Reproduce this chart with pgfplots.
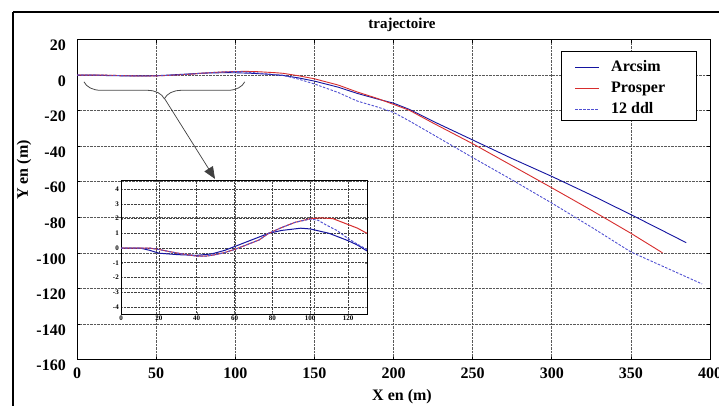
\documentclass[border=0pt]{standalone}
\usepackage{pgfplots}
\pgfplotsset{compat=1.18}
\usepackage{fontspec}
\setmainfont{Liberation Serif}
\usetikzlibrary{arrows.meta,decorations.pathreplacing}
\definecolor{arcsim}{RGB}{20,20,160}
\definecolor{prosper}{RGB}{215,45,45}
\definecolor{ddl}{RGB}{80,80,210}
\newcommand{\bigf}{\fontsize{16}{16}\selectfont\bfseries}
\begin{document}
\begin{tikzpicture}
\useasboundingbox (0pt,0pt) rectangle (719pt,405pt);
\fill[white] (0pt,0pt) rectangle (719pt,405pt);
\begin{axis}[
  at={(77pt,45.5pt)}, anchor=south west,
  scale only axis, width=633pt, height=320pt,
  xmin=0, xmax=400, ymin=-160, ymax=20,
  xtick={0,50,...,400}, ytick={-160,-140,...,20},
  grid=major,
  major grid style={densely dotted, black!65, line width=0.6pt},
  tick align=inside, major tick length=3pt,
  tick style={black, line width=0.6pt},
  axis line style={black, line width=0.8pt},
  /pgf/number format/assume math mode=true,
  tick label style={font=\bigf},
  xticklabel style={inner sep=0pt, anchor=north, yshift=-8pt},
  yticklabel style={inner sep=0pt, anchor=east, xshift=-11pt, yshift=-6pt},
]
\addplot[color=arcsim, line width=0.9pt] coordinates {
(0,0)(10,0)(15,-0.15)(20,-0.35)(30,-0.45)(40,-0.5)(48,-0.4)(55,-0.15)(60,0.1)(70,0.6)(78,1.0)(85,1.2)(95,1.35)(100,1.3)(110,1.0)(120,0.5)(130,-0.2)(140,-1.6)(150,-3.4)(165,-6.8)(177,-10.3)(190,-13.5)(200,-15.8)(210,-19.3)(225,-26)(250,-36.5)(275,-47)(300,-57)(325,-67.5)(350,-78.5)(370,-87.5)(385,-94.3)};
\addplot[color=prosper, line width=0.9pt] coordinates {
(0,0)(15,0)(20,-0.1)(30,-0.35)(40,-0.55)(45,-0.55)(50,-0.45)(55,-0.3)(60,-0.1)(66,0.2)(73,0.55)(78,1.0)(85,1.4)(92,1.75)(100,2.0)(106,2.05)(112,2.0)(120,1.6)(125,1.35)(130,1.0)(140,-0.4)(150,-2.1)(165,-5.6)(177,-9.5)(190,-13.2)(200,-16.5)(210,-19.8)(225,-27)(250,-38.6)(275,-51)(300,-63.4)(325,-76)(350,-89)(370,-100)};
\addplot[color=ddl, line width=0.9pt, dash pattern=on 2.5pt off 1.5pt] coordinates {
(0,0)(15,0)(20,-0.1)(30,-0.35)(40,-0.55)(45,-0.55)(50,-0.45)(55,-0.3)(60,-0.1)(66,0.2)(73,0.55)(78,1.0)(85,1.4)(92,1.75)(100,1.97)(104,1.9)(108,1.6)(114,1.2)(120,0.65)(125,0.25)(130,-0.1)(140,-2.3)(150,-5)(165,-9.8)(177,-14.6)(190,-18)(200,-21)(210,-25.8)(225,-33.5)(250,-46.4)(275,-59)(300,-72)(325,-85.5)(350,-99.5)(375,-109.5)(395,-117.5)};
\draw[black!70, line width=0.8pt, decorate, decoration={brace, mirror, amplitude=17pt}]
  (axis cs:4.4,-3.8) -- (axis cs:106,-3.8);
\draw[black!75, line width=0.7pt, -{Triangle[length=12pt,width=10pt]}]
  (axis cs:55.6,-13.6) -- (axis cs:87.2,-58.4);
% legend box
\draw[black, line width=0.6pt, fill=white] (rel axis cs:0.7657,0.964) rectangle (rel axis cs:0.9790,0.7484);
\draw[arcsim, line width=1pt] (rel axis cs:0.7868,0.9119) -- (rel axis cs:0.8247,0.9119);
\draw[prosper, line width=1.3pt] (rel axis cs:0.7868,0.8475) -- (rel axis cs:0.8247,0.8475);
\draw[ddl, line width=1pt, dash pattern=on 2.5pt off 1.5pt] (rel axis cs:0.7868,0.7828) -- (rel axis cs:0.8247,0.7828);
\node[font=\bigf, anchor=base west, inner sep=0pt] at (rel axis cs:0.8436,0.8994) {Arcsim};
\node[font=\bigf, anchor=base west, inner sep=0pt] at (rel axis cs:0.8436,0.8344) {Prosper};
\node[font=\bigf, anchor=base west, inner sep=0pt] at (rel axis cs:0.8436,0.7688) {12 ddl};
\end{axis}
\begin{axis}[
  at={(121pt,91pt)}, anchor=south west,
  scale only axis, width=246pt, height=134pt,
  xmin=0, xmax=130, ymin=-4.49, ymax=4.63,
  xtick={0,20,...,120}, ytick={-4,...,4},
  grid=major,
  major grid style={densely dotted, black!75, line width=0.5pt},
  tick align=inside, major tick length=2pt,
  axis line style={black, line width=0.7pt},
  /pgf/number format/assume math mode=true,
  tick label style={font=\fontsize{7}{7}\selectfont\bfseries},
  xticklabel style={inner sep=0pt, anchor=north, yshift=-2pt},
  yticklabel style={inner sep=0pt, anchor=east, xshift=-2pt},
]
\addplot[color=arcsim, line width=1pt] coordinates {
(0,0)(10,0)(15,-0.15)(20,-0.35)(30,-0.45)(40,-0.5)(48,-0.4)(55,-0.15)(60,0.1)(70,0.6)(78,1.0)(85,1.2)(95,1.35)(100,1.3)(110,1.0)(120,0.5)(125,0.2)(130,-0.2)};
\addplot[color=prosper, line width=1pt] coordinates {
(0,0)(15,0)(20,-0.1)(30,-0.35)(40,-0.55)(45,-0.55)(50,-0.45)(55,-0.3)(60,-0.1)(66,0.2)(73,0.55)(78,1.0)(85,1.4)(92,1.75)(100,2.0)(106,2.05)(112,2.0)(120,1.6)(125,1.35)(130,1.0)};
\addplot[color=ddl, line width=1pt, dash pattern=on 2.5pt off 1.5pt] coordinates {
(0,0)(15,0)(20,-0.1)(30,-0.35)(40,-0.55)(45,-0.55)(50,-0.45)(55,-0.3)(60,-0.1)(66,0.2)(73,0.55)(78,1.0)(85,1.4)(92,1.75)(100,1.97)(104,1.9)(108,1.6)(114,1.2)(120,0.65)(125,0.25)(130,-0.1)};
\end{axis}
\node[font=\fontsize{15}{15}\selectfont\bfseries] at (402pt,380pt) {trajectoire};
\node[font=\bigf] at (402pt,8pt) {X en (m)};
\node[font=\bigf, rotate=90] at (24pt,235pt) {Y en (m)};
\draw[line width=2pt, black] (13pt,393pt) -- (740pt,393pt);
\draw[line width=2pt, black] (13pt,393pt) -- (13pt,-20pt);
\end{tikzpicture}
\end{document}
